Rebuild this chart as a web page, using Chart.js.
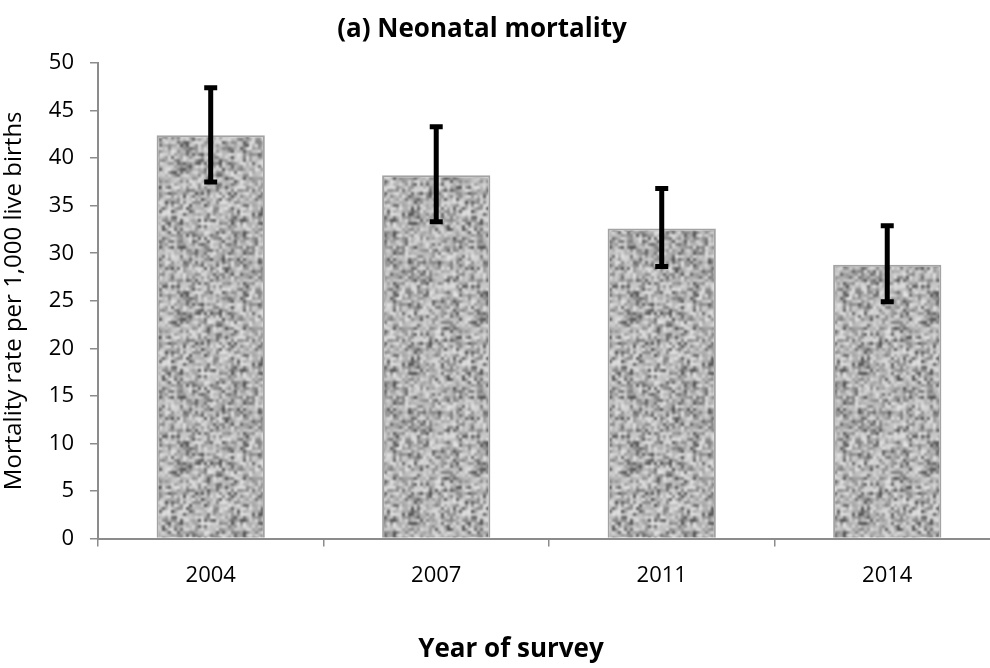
<!DOCTYPE html>
<html>
<head>
<meta charset="utf-8">
<script src="https://cdn.jsdelivr.net/npm/chart.js@4"></script>
<style>
  html, body { margin: 0; padding: 0; background: #fff; overflow: hidden; }
  #wrap { width: 1000px; height: 668px; position: relative; }
</style>
</head>
<body>
<div id="wrap"><canvas id="Chart1"></canvas></div>
<script>
// Neonatal mortality by survey year

const years = ["2004", "2007", "2011", "2014"];
const rates = [42.4, 38.2, 32.6, 28.8];
const lowerCI = [37.5, 33.3, 28.6, 24.9];
const upperCI = [47.4, 43.3, 36.8, 32.9];
const yTicks = [0, 5, 10, 15, 20, 25, 30, 35, 40, 45, 50];

const axisGrey = "#8c8c8c";
const fontName = "'Open Sans', sans-serif";

// granite-like texture for the bars (seeded so it's the same every time)
function makeGranite() {
  let seed = 987654;
  function rnd() {
    seed = (seed * 1103515245 + 12345) % 2147483648;
    return seed / 2147483648;
  }
  const size = 150, cell = 3;
  const raw = document.createElement("canvas");
  raw.width = size; raw.height = size;
  const rc = raw.getContext("2d");
  for (let x = 0; x < size; x += cell) {
    for (let y = 0; y < size; y += cell) {
      let g;
      const p = rnd();
      if (p < 0.11) g = 75 + rnd() * 40;
      else if (p < 0.36) g = 125 + rnd() * 40;
      else g = 170 + rnd() * 60;
      g = Math.floor(g);
      rc.fillStyle = "rgb(" + g + "," + g + "," + g + ")";
      rc.fillRect(x, y, cell, cell);
    }
  }
  // tile 3x3, blur the whole thing, keep the middle tile -> no seams
  const big = document.createElement("canvas");
  big.width = size * 3; big.height = size * 3;
  const bc = big.getContext("2d");
  for (let i = 0; i < 3; i++) {
    for (let j = 0; j < 3; j++) bc.drawImage(raw, i * size, j * size);
  }
  const blurred = document.createElement("canvas");
  blurred.width = size * 3; blurred.height = size * 3;
  const blc = blurred.getContext("2d");
  blc.filter = "blur(1.3px)";
  blc.drawImage(big, 0, 0);
  const out = document.createElement("canvas");
  out.width = size; out.height = size;
  out.getContext("2d").drawImage(blurred, size, size, size, size, 0, 0, size, size);
  return out.getContext("2d").createPattern(out, "repeat");
}

const errorBars = {
  id: "errorBars",
  afterDatasetsDraw(chart) {
    const ctx = chart.ctx;
    const meta = chart.getDatasetMeta(0);
    const yScale = chart.scales.y;
    ctx.save();
    ctx.strokeStyle = "#000";
    ctx.lineWidth = 5;
    meta.data.forEach((bar, i) => {
      const top = yScale.getPixelForValue(upperCI[i]);
      const bot = yScale.getPixelForValue(lowerCI[i]);
      ctx.beginPath();
      ctx.moveTo(bar.x, top);
      ctx.lineTo(bar.x, bot);
      ctx.moveTo(bar.x - 6.5, top);
      ctx.lineTo(bar.x + 6.5, top);
      ctx.moveTo(bar.x - 6.5, bot);
      ctx.lineTo(bar.x + 6.5, bot);
      ctx.stroke();
    });
    ctx.restore();
  }
};

// titles drawn by hand so they sit where the original has them
const textTitles = {
  id: "textTitles",
  afterDraw(chart) {
    const ctx = chart.ctx;
    ctx.save();
    ctx.font = "bold 26px " + fontName;
    ctx.fillStyle = "#000";
    ctx.textAlign = "center";
    ctx.textBaseline = "middle";
    ctx.fillText("(a) Neonatal mortality", 482, 30);
    ctx.fillText("Year of survey", 511, 650);
    ctx.restore();
  }
};

const data = {
  labels: years,
  datasets: [{
    data: rates,
    backgroundColor: makeGranite(),
    borderColor: "#a3a3a3",
    borderWidth: 2,
    barPercentage: 0.48,
    categoryPercentage: 1
  }]
};

const config = {
  type: "bar",
  data,
  options: {
    responsive: true,
    maintainAspectRatio: false,
    animation: false,
    layout: { padding: { left: 0, right: 0, top: 63, bottom: 63 } },
    plugins: {
      legend: { display: false },
      tooltip: { enabled: false },
      title: { display: false }
    },
    scales: {
      x: {
        grid: {
          display: true,
          drawOnChartArea: false,
          drawTicks: true,
          tickLength: 8,
          color: axisGrey,
          lineWidth: 1.5
        },
        border: { color: axisGrey, width: 2 },
        ticks: {
          color: "#000",
          padding: 16,
          font: { family: fontName, size: 22 }
        }
      },
      y: {
        min: 0,
        max: 50,
        afterBuildTicks: (axis) => { axis.ticks = yTicks.map(v => ({ value: v })); },
        grid: {
          display: true,
          drawOnChartArea: false,
          drawTicks: true,
          tickLength: 8,
          color: axisGrey,
          lineWidth: 1.5
        },
        border: { color: axisGrey, width: 2 },
        ticks: {
          color: "#000",
          padding: 16,
          font: { family: fontName, size: 22 }
        },
        title: {
          display: true,
          text: "Mortality rate per 1,000 live births",
          color: "#000",
          font: { family: fontName, size: 24 },
          padding: { top: 0, bottom: 4 }
        }
      }
    }
  },
  plugins: [errorBars, textTitles]
};

const myChart = new Chart("Chart1", config);
</script>
</body>
</html>
